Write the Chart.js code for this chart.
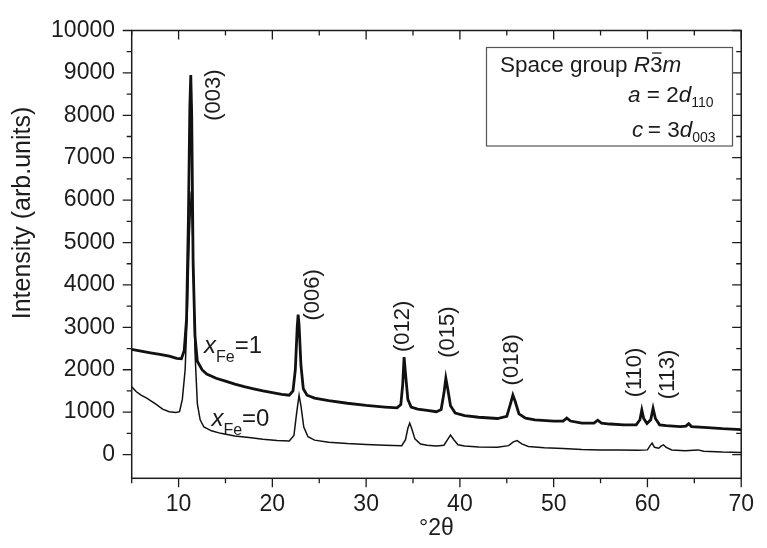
<!DOCTYPE html>
<html>
<head>
<meta charset="utf-8">
<script src="https://cdn.jsdelivr.net/npm/chart.js@4.4.0/dist/chart.umd.min.js"></script>
<style>
  html, body { margin: 0; padding: 0; background: #fff; }
</style>
</head>
<body>
<canvas id="xrd" width="767" height="548"></canvas>
<script>
// XRD patterns (°2θ vs intensity)
const TWO_THETA_FE1 = [5, 6, 7, 8, 9, 9.8, 10.3, 10.6, 10.85, 11.05, 11.2, 11.3, 11.4, 11.55, 11.75, 12.0, 12.5, 13, 14, 15, 16, 17, 18, 19, 20, 21, 21.8, 22.2, 22.45, 22.65, 22.75, 22.85, 23.05, 23.3, 23.7, 24.5, 26, 28, 30, 32, 33.3, 33.7, 33.9, 34.05, 34.2, 34.45, 34.8, 35.5, 36.5, 37.5, 38.0, 38.3, 38.5, 38.7, 39.0, 39.5, 40.5, 42, 44, 45.0, 45.4, 45.65, 45.9, 46.3, 47, 48, 50, 51, 51.4, 51.8, 53, 54.3, 54.7, 55.1, 56, 57.5, 58.8, 59.2, 59.4, 59.6, 59.95, 60.35, 60.6, 60.85, 61.3, 62, 63.5, 64.1, 64.4, 64.7, 66, 68, 70];
const INT_FE1 = [2480, 2440, 2400, 2360, 2320, 2270, 2260, 2450, 3200, 5600, 8200, 8950, 8000, 4500, 2800, 2200, 2000, 1900, 1800, 1730, 1660, 1600, 1550, 1500, 1460, 1420, 1400, 1500, 2000, 3000, 3300, 3050, 2100, 1550, 1400, 1330, 1270, 1210, 1160, 1120, 1100, 1180, 1650, 2300, 1900, 1300, 1120, 1070, 1040, 1010, 1060, 1450, 1800, 1550, 1150, 980, 920, 880, 850, 900, 1200, 1400, 1250, 960, 860, 820, 790, 790, 860, 790, 740, 740, 810, 740, 720, 700, 700, 820, 1050, 850, 730, 820, 1090, 850, 700, 680, 660, 670, 730, 660, 640, 610, 590];

const TWO_THETA_FE0 = [5, 5.5, 6, 6.6, 7.5, 8.3, 9, 9.7, 10.1, 10.4, 10.7, 10.95, 11.15, 11.35, 11.55, 11.75, 12.0, 12.3, 12.7, 13.5, 14.5, 16, 17.5, 19, 20.5, 21.8, 22.3, 22.6, 22.85, 23.05, 23.35, 23.8, 24.5, 26, 28, 30, 32, 33.8, 34.2, 34.45, 34.65, 34.85, 35.2, 35.8, 36.5, 37.5, 38.3, 38.7, 39.0, 39.35, 39.8, 40.5, 42, 44, 45.2, 45.7, 46.1, 46.6, 47.3, 49, 51, 53, 55, 57, 59, 60.0, 60.25, 60.5, 60.75, 61.2, 61.45, 61.7, 62.0, 62.6, 64, 65.4, 66, 68, 70];
const INT_FE0 = [1600, 1480, 1400, 1330, 1200, 1070, 1010, 990, 1010, 1300, 2000, 3500, 5200, 6200, 4800, 2400, 1200, 820, 650, 560, 500, 440, 400, 360, 330, 320, 450, 1000, 1400, 1150, 650, 420, 340, 290, 260, 240, 220, 210, 350, 620, 740, 620, 370, 250, 220, 200, 220, 360, 460, 350, 230, 200, 180, 170, 210, 300, 330, 250, 190, 160, 140, 120, 110, 110, 100, 110, 200, 270, 170, 150, 200, 230, 170, 110, 90, 110, 80, 60, 50];

const X_TICKS = [10, 20, 30, 40, 50, 60, 70];
const X_MINOR = [5, 15, 25, 35, 45, 55, 65];
const Y_TICKS = [0, 1000, 2000, 3000, 4000, 5000, 6000, 7000, 8000, 9000, 10000];
const Y_MINOR = [500, 1500, 2500, 3500, 4500, 5500, 6500, 7500, 8500, 9500];

const HKL = ["(003)", "(006)", "(012)", "(015)", "(018)", "(110)", "(113)"];
const SERIES_NAMES = ["=1", "=0"];

const FONT = "'Liberation Sans', Arial, sans-serif";
const INK = "#1c1c1c";

// where the labels sit, in data units
const HKL_POS = [[13.75, 8475], [24.36, 3766], [33.9, 3024], [38.74, 2886], [45.57, 2236], [58.7, 1935], [62.16, 1888]];
const SERIES_POS = [[12.72, 2396], [13.5, 680]];

function drawRuns(ctx, x, y, parts) {
  let cx = x;
  parts.forEach(([t, size, italic, dy]) => {
    ctx.font = (italic ? "italic " : "") + size + "px " + FONT;
    ctx.fillText(t, cx, y + (dy || 0));
    cx += ctx.measureText(t).width;
  });
  return cx;
}

const decor = {
  id: "decor",
  afterDraw(chart) {
    const { ctx, chartArea: a, scales: { x, y } } = chart;
    ctx.save();
    ctx.strokeStyle = INK;
    ctx.fillStyle = INK;

    // frame
    ctx.lineWidth = 1.5;
    ctx.strokeRect(a.left, a.top, a.right - a.left, a.bottom - a.top);

    // ticks: out on bottom/left, in on top/right
    ctx.lineWidth = 1.3;
    ctx.beginPath();
    const xt = (v, len) => {
      const px = x.getPixelForValue(v);
      ctx.moveTo(px, a.bottom); ctx.lineTo(px, a.bottom + len);
      ctx.moveTo(px, a.top); ctx.lineTo(px, a.top + len);
    };
    const yt = (v, len) => {
      const py = y.getPixelForValue(v);
      ctx.moveTo(a.left, py); ctx.lineTo(a.left - len, py);
      ctx.moveTo(a.right, py); ctx.lineTo(a.right - len, py);
    };
    X_TICKS.forEach(v => xt(v, 9));
    X_MINOR.forEach(v => xt(v, 5));
    Y_TICKS.forEach(v => yt(v, 9));
    Y_MINOR.forEach(v => yt(v, 5));
    ctx.stroke();

    // axis titles
    ctx.textAlign = "center";
    ctx.textBaseline = "middle";
    ctx.font = "23px " + FONT;
    ctx.fillText("°2θ", (a.left + a.right) / 2, 529);
    ctx.save();
    ctx.translate(23, 213);
    ctx.rotate(-Math.PI / 2);
    ctx.font = "25px " + FONT;
    ctx.fillText("Intensity (arb.units)", 0, 0);
    ctx.restore();

    // reflection labels
    ctx.font = "22px " + FONT;
    HKL.forEach((t, i) => {
      ctx.save();
      ctx.translate(x.getPixelForValue(HKL_POS[i][0]), y.getPixelForValue(HKL_POS[i][1]));
      ctx.rotate(-Math.PI / 2);
      ctx.fillText(t, 0, 0);
      ctx.restore();
    });

    // series labels  x_Fe=1 / x_Fe=0
    ctx.textAlign = "left";
    ctx.textBaseline = "alphabetic";
    SERIES_NAMES.forEach((t, i) => {
      const px = x.getPixelForValue(SERIES_POS[i][0]);
      const py = y.getPixelForValue(SERIES_POS[i][1]);
      drawRuns(ctx, px, py, [["x", 24, true], ["Fe", 16, false, 9], [t, 24, false]]);
    });

    // info box
    ctx.lineWidth = 1.2;
    ctx.strokeStyle = "#555";
    ctx.strokeRect(486.5, 47.5, 246, 98.5);
    let cx = drawRuns(ctx, 500, 72, [["Space group ", 22.5, false], ["R", 22.5, true]]);
    ctx.font = "22.5px " + FONT;
    const w3 = ctx.measureText("3").width;
    ctx.fillText("3", cx, 72);
    ctx.lineWidth = 1.3;
    ctx.strokeStyle = INK;
    ctx.beginPath();
    ctx.moveTo(cx + 2, 53); ctx.lineTo(cx + w3 - 1, 53);
    ctx.stroke();
    drawRuns(ctx, cx + w3, 72, [["m", 22.5, true]]);
    drawRuns(ctx, 628, 102, [["a", 22.5, true], [" = 2", 22.5, false], ["d", 22.5, true], ["110", 14, false, 5]]);
    drawRuns(ctx, 632, 137, [["c", 22.5, true], ["\u2009= 3", 22.5, false], ["d", 22.5, true], ["003", 14, false, 5]]);

    ctx.restore();
  },
};

const tickFont = { family: FONT, size: 23 };

new Chart(document.getElementById("xrd"), {
  type: "line",
  data: {
    datasets: [
      {
        label: "xFe=1",
        data: TWO_THETA_FE1.map((t, i) => ({ x: t, y: INT_FE1[i] })),
        borderColor: "#111",
        borderWidth: 2.8,
        pointRadius: 0,
        tension: 0,
      },
      {
        label: "xFe=0",
        data: TWO_THETA_FE0.map((t, i) => ({ x: t, y: INT_FE0[i] })),
        borderColor: "#111",
        borderWidth: 1.5,
        pointRadius: 0,
        tension: 0,
      },
    ],
  },
  options: {
    responsive: false,
    animation: false,
    layout: { padding: { top: 22.7, right: 16.3, left: 0, bottom: 0 } },
    plugins: { legend: { display: false }, tooltip: { enabled: false } },
    scales: {
      x: {
        type: "linear",
        min: 5,
        max: 70,
        grid: { display: false, drawTicks: false },
        border: { display: false },
        afterBuildTicks: s => { s.ticks = X_TICKS.map(v => ({ value: v })); },
        afterFit: s => { s.height = 69.7; },
        ticks: { font: tickFont, color: INK, padding: 13, maxRotation: 0, autoSkip: false, callback: v => String(v) },
      },
      y: {
        min: -560,
        max: 10000,
        grid: { display: false, drawTicks: false },
        border: { display: false },
        afterBuildTicks: s => { s.ticks = Y_TICKS.map(v => ({ value: v })); },
        afterFit: s => { s.width = 131.7; },
        ticks: { font: tickFont, color: INK, padding: 16.7, autoSkip: false, callback: v => String(v) },
      },
    },
  },
  plugins: [decor],
});
</script>
</body>
</html>
